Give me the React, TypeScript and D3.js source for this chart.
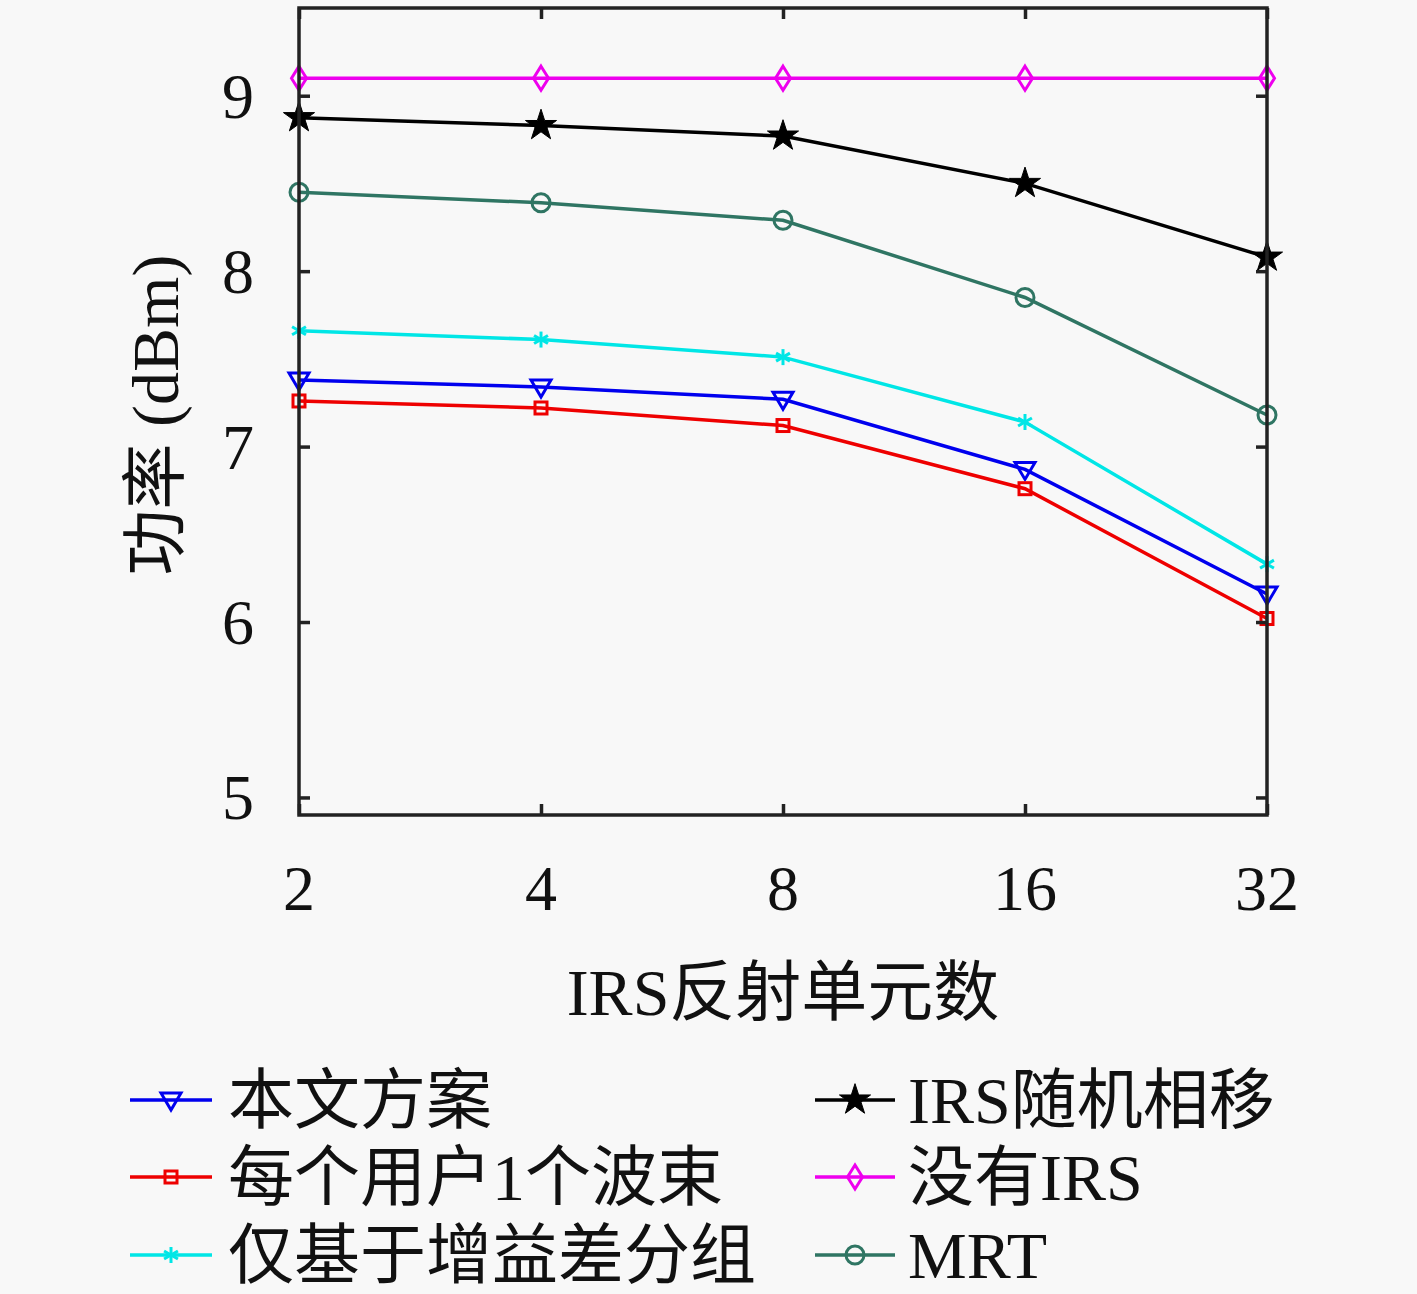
import { useEffect, useRef } from "react";
import * as d3 from "d3";

const elements = [2, 4, 8, 16, 32];
const yTicks = [5, 6, 7, 8, 9];

const seriesNames = ["本文方案", "每个用户1个波束", "仅基于增益差分组", "IRS随机相移", "没有IRS", "MRT"];
const seriesColors = ["#0000ee", "#ee0000", "#00e6e6", "#000000", "#ee00ee", "#2f7563"];
const seriesMarkers = ["triangleDown", "square", "asterisk", "star", "diamond", "circle"];

const proposed = [7.38, 7.34, 7.27, 6.87, 6.16];
const oneBeamPerUser = [7.26, 7.22, 7.12, 6.76, 6.02];
const gainDiffOnly = [7.66, 7.61, 7.51, 7.14, 6.33];
const randomPhase = [8.875, 8.83, 8.77, 8.5, 8.08];
const noIrs = [9.1, 9.1, 9.1, 9.1, 9.1];
const mrt = [8.45, 8.39, 8.29, 7.85, 7.18];

const seriesValues = [proposed, oneBeamPerUser, gainDiffOnly, randomPhase, noIrs, mrt];

const latin = "'Liberation Serif', 'Noto Sans CJK SC', serif";

function drawMarker(g: d3.Selection<SVGGElement, unknown, null, undefined>, kind: string, color: string, x: number, y: number) {
  const m = g.append("g").attr("transform", `translate(${x},${y})`);
  const sw = 3;
  if (kind === "triangleDown") {
    m.append("path")
      .attr("d", "M-10,-7 L10,-7 L0,10 Z")
      .attr("fill", "none")
      .attr("stroke", color)
      .attr("stroke-width", sw);
  } else if (kind === "square") {
    m.append("rect")
      .attr("x", -6)
      .attr("y", -6)
      .attr("width", 12)
      .attr("height", 12)
      .attr("fill", "none")
      .attr("stroke", color)
      .attr("stroke-width", sw);
  } else if (kind === "asterisk") {
    [0, 60, 120].forEach(a => {
      m.append("line")
        .attr("x1", 0)
        .attr("y1", -8)
        .attr("x2", 0)
        .attr("y2", 8)
        .attr("transform", `rotate(${a})`)
        .attr("stroke", color)
        .attr("stroke-width", sw);
    });
  } else if (kind === "star") {
    m.append("path")
      .attr("d", d3.symbol().type(d3.symbolStar).size(300)()!)
      .attr("fill", color)
      .attr("stroke", color)
      .attr("stroke-width", 1);
  } else if (kind === "diamond") {
    m.append("path")
      .attr("d", "M0,-12 L7.5,0 L0,12 L-7.5,0 Z")
      .attr("fill", "none")
      .attr("stroke", color)
      .attr("stroke-width", sw);
  } else {
    m.append("circle")
      .attr("r", 9)
      .attr("fill", "none")
      .attr("stroke", color)
      .attr("stroke-width", sw);
  }
}

export default function App() {
  const svgRef = useRef<SVGSVGElement>(null);

  useEffect(() => {
    if (!svgRef.current) return;
    document.body.style.margin = "0";
    const svg = d3.select(svgRef.current);
    svg.selectAll("*").remove();

    const width = 1417;
    const height = 1294;
    const left = 299;
    const right = 1267;
    const top = 8;
    const bottom = 815;

    svg.append("rect").attr("width", width).attr("height", height).attr("fill", "#f8f8f8");

    const x = d3.scaleLog().base(2).domain([2, 32]).range([left, right]);
    const y = d3.scaleLinear().domain([4.9, 9.5]).range([bottom, top]);

    const g = svg.append("g") as unknown as d3.Selection<SVGGElement, unknown, null, undefined>;

    // series lines
    seriesValues.forEach((vals, i) => {
      const line = d3
        .line<number>()
        .x((_, j) => x(elements[j]))
        .y(d => y(d));
      g.append("path")
        .datum(vals)
        .attr("fill", "none")
        .attr("stroke", seriesColors[i])
        .attr("stroke-width", 3.5)
        .attr("d", line);
    });
    seriesValues.forEach((vals, i) => {
      vals.forEach((v, j) => drawMarker(g, seriesMarkers[i], seriesColors[i], x(elements[j]), y(v)));
    });

    // axes with inward ticks
    const tickLen = 11;
    const axisStyle = (sel: d3.Selection<SVGGElement, unknown, null, undefined>) => {
      sel.selectAll(".domain").remove();
      sel.selectAll(".tick line").attr("stroke", "#222").attr("stroke-width", 3.5);
      sel.selectAll(".tick text").remove();
    };
    g.append("g")
      .attr("transform", `translate(0,${bottom})`)
      .call(d3.axisBottom(x).tickValues(elements).tickSize(-tickLen))
      .call(axisStyle);
    g.append("g")
      .attr("transform", `translate(0,${top})`)
      .call(d3.axisTop(x).tickValues(elements).tickSize(-tickLen))
      .call(axisStyle);
    g.append("g")
      .attr("transform", `translate(${left},0)`)
      .call(d3.axisLeft(y).tickValues(yTicks).tickSize(-tickLen))
      .call(axisStyle);
    g.append("g")
      .attr("transform", `translate(${right},0)`)
      .call(d3.axisRight(y).tickValues(yTicks).tickSize(-tickLen))
      .call(axisStyle);

    g.append("rect")
      .attr("x", left)
      .attr("y", top)
      .attr("width", right - left)
      .attr("height", bottom - top)
      .attr("fill", "none")
      .attr("stroke", "#222")
      .attr("stroke-width", 3.5);

    // tick labels
    elements.forEach(e => {
      g.append("text")
        .attr("x", x(e))
        .attr("y", 910)
        .attr("text-anchor", "middle")
        .attr("font-family", latin)
        .attr("font-size", 64)
        .attr("fill", "#111")
        .text(String(e));
    });
    yTicks.forEach(t => {
      g.append("text")
        .attr("x", 254)
        .attr("y", y(t) + 22)
        .attr("text-anchor", "end")
        .attr("font-family", latin)
        .attr("font-size", 64)
        .attr("fill", "#111")
        .text(String(t));
    });

    // axis titles
    g.append("text")
      .attr("x", 783)
      .attr("y", 1015)
      .attr("text-anchor", "middle")
      .attr("font-family", latin)
      .attr("font-size", 66)
      .attr("fill", "#111")
      .text("IRS反射单元数");
    g.append("text")
      .attr("transform", `translate(178,415) rotate(-90)`)
      .attr("text-anchor", "middle")
      .attr("font-family", latin)
      .attr("font-size", 66)
      .attr("fill", "#111")
      .text("功率 (dBm)");

    // legend
    const rowY = [1100, 1177, 1255];
    const cols = [
      { lx1: 130, lx2: 212, tx: 228 },
      { lx1: 815, lx2: 895, tx: 908 }
    ];
    seriesNames.forEach((name, i) => {
      const c = cols[Math.floor(i / 3)];
      const ry = rowY[i % 3];
      g.append("line")
        .attr("x1", c.lx1)
        .attr("x2", c.lx2)
        .attr("y1", ry)
        .attr("y2", ry)
        .attr("stroke", seriesColors[i])
        .attr("stroke-width", 3.5);
      drawMarker(g, seriesMarkers[i], seriesColors[i], (c.lx1 + c.lx2) / 2, ry);
      g.append("text")
        .attr("x", c.tx)
        .attr("y", ry + 23)
        .attr("font-family", latin)
        .attr("font-size", 66)
        .attr("fill", "#111")
        .text(name);
    });
  }, []);

  return <svg ref={svgRef} width={1417} height={1294} style={{ display: "block" }} />;
}
